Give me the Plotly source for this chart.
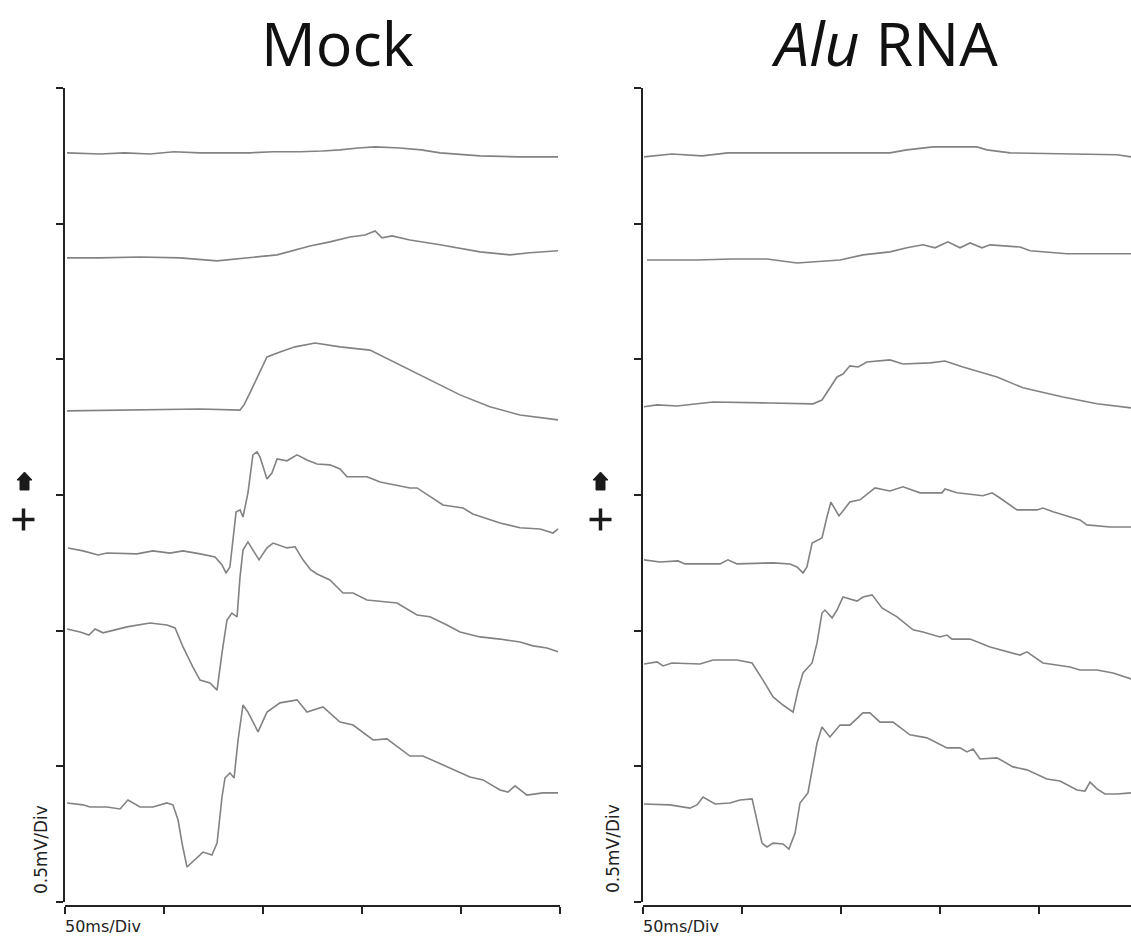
import plotly.graph_objects as go

W, H = 1131, 937

# ---------------- data (time in ms, potential in mV) ----------------
mock_1_t = [1, 17.7, 30, 42.9, 55, 68.2, 80, 93.4, 105, 118.7, 130, 138.9, 148, 156.6, 169.2, 180, 189.4, 200, 209.6, 229.8, 249]
mock_1_v = [2.761, 2.757, 2.761, 2.757, 2.765, 2.761, 2.761, 2.761, 2.765, 2.765, 2.768, 2.772, 2.779, 2.783, 2.779, 2.772, 2.761, 2.754, 2.750, 2.746, 2.746]

mock_2_t = [1, 17.7, 37.9, 58.1, 76.8, 90.9, 107.1, 123.7, 133.8, 143.9, 151.5, 156.6, 160.1, 165.2, 174.2, 189.4, 209.6, 224.7, 234.8, 249]
mock_2_v = [2.374, 2.374, 2.377, 2.374, 2.363, 2.374, 2.385, 2.418, 2.433, 2.451, 2.458, 2.473, 2.448, 2.455, 2.440, 2.422, 2.396, 2.385, 2.393, 2.400]

mock_3_t = [1, 27.8, 53, 68.2, 88.4, 90.4, 93.4, 97.5, 102, 108.6, 116.2, 126.3, 138.9, 154, 169.2, 184.3, 199.5, 214.6, 229.8, 249]
mock_3_v = [1.810, 1.813, 1.817, 1.817, 1.813, 1.832, 1.876, 1.942, 2.009, 2.027, 2.046, 2.060, 2.046, 2.034, 1.979, 1.924, 1.869, 1.825, 1.795, 1.777]

mock_4_t = [1.5, 9.1, 16.7, 21.2, 36.4, 44.4, 53, 59.6, 68.2, 75.8, 79.3, 81.3, 83.3, 84.8, 86.4, 88.4, 89.9, 92.4, 94.9, 97, 98.5, 102, 104.5, 107.1, 112.1, 117.2, 122.2, 127.3, 133.8, 138.9, 142.4, 152.5, 159.1, 174.2, 177.8, 190.9, 201, 206, 219.7, 229.8, 239.9, 246.5, 249]
mock_4_v = [1.305, 1.294, 1.279, 1.286, 1.283, 1.294, 1.286, 1.294, 1.283, 1.272, 1.242, 1.213, 1.235, 1.334, 1.437, 1.445, 1.419, 1.508, 1.648, 1.659, 1.640, 1.559, 1.581, 1.633, 1.626, 1.648, 1.629, 1.614, 1.611, 1.596, 1.567, 1.567, 1.548, 1.526, 1.526, 1.463, 1.452, 1.430, 1.397, 1.379, 1.375, 1.360, 1.375]

mock_5_t = [1, 7.6, 12.1, 15.2, 19.2, 31.3, 42.9, 51.5, 55.6, 59.6, 64.6, 68.2, 73.2, 76.8, 79.3, 81.8, 84.3, 86.9, 88.4, 89.9, 92.4, 94.9, 98, 102, 105.1, 112.1, 116.2, 120.2, 124, 127.3, 133.8, 140.4, 145.5, 152.5, 162.6, 167.7, 177.8, 184.3, 192.9, 199.5, 209.6, 219.7, 229.8, 236.4, 243.4, 249]
mock_5_v = [1.006, 0.995, 0.984, 1.006, 0.992, 1.014, 1.028, 1.021, 1.010, 0.940, 0.866, 0.818, 0.807, 0.781, 0.918, 1.039, 1.065, 1.051, 1.198, 1.297, 1.327, 1.297, 1.261, 1.305, 1.323, 1.305, 1.309, 1.261, 1.225, 1.209, 1.187, 1.139, 1.139, 1.113, 1.106, 1.102, 1.058, 1.051, 1.021, 0.995, 0.977, 0.969, 0.958, 0.944, 0.936, 0.922]

mock_6_t = [1, 9.1, 12.6, 21.2, 27.8, 31.8, 37.9, 44.4, 51.5, 54.5, 57.1, 59.1, 61.6, 66.7, 69.7, 74.2, 76.8, 79.3, 80.8, 83.3, 85.4, 87.4, 89.9, 92.4, 97.5, 102, 108.6, 117.2, 122.2, 130.3, 138.9, 145.5, 155.6, 162.6, 174.2, 180.8, 189.4, 204.5, 211.1, 219.7, 223.7, 227.3, 233.3, 241.4, 249]
mock_6_v = [0.365, 0.358, 0.350, 0.350, 0.343, 0.376, 0.350, 0.350, 0.365, 0.358, 0.302, 0.217, 0.129, 0.166, 0.184, 0.173, 0.217, 0.387, 0.457, 0.476, 0.457, 0.597, 0.726, 0.700, 0.627, 0.700, 0.734, 0.745, 0.700, 0.719, 0.663, 0.652, 0.597, 0.601, 0.538, 0.538, 0.509, 0.461, 0.450, 0.413, 0.405, 0.428, 0.394, 0.402, 0.402]

alu_1_t = [0.5, 14.6, 29.8, 42.9, 49, 90, 124.7, 133.3, 146.5, 168.7, 173.7, 185.4, 212.1, 239.4, 246.5]
alu_1_v = [2.746, 2.757, 2.750, 2.761, 2.761, 2.761, 2.761, 2.772, 2.783, 2.783, 2.772, 2.761, 2.757, 2.754, 2.746]

alu_2_t = [2, 27.3, 45, 62.6, 77.8, 99.5, 111.1, 124.7, 133.3, 141.4, 147.5, 154, 160.1, 165.2, 171.2, 175.3, 190.4, 195.5, 214.1, 246.5]
alu_2_v = [2.366, 2.366, 2.370, 2.370, 2.355, 2.366, 2.385, 2.396, 2.411, 2.422, 2.411, 2.433, 2.411, 2.429, 2.411, 2.422, 2.414, 2.400, 2.389, 2.389]

alu_3_t = [0.5, 7.1, 17.2, 35.4, 64.1, 75.8, 85.9, 90.4, 94.4, 98, 101, 104.5, 108.6, 113.1, 124.7, 131.3, 145, 152.5, 161.6, 178.8, 191.9, 212.1, 229.3, 246.5]
alu_3_v = [1.825, 1.832, 1.828, 1.843, 1.839, 1.836, 1.836, 1.850, 1.895, 1.935, 1.946, 1.976, 1.972, 1.990, 1.998, 1.983, 1.987, 1.994, 1.972, 1.935, 1.895, 1.861, 1.836, 1.821]

alu_4_t = [0.5, 8.6, 17.7, 21.2, 38.9, 42.9, 47.5, 65.7, 74.2, 77.8, 80.8, 82.8, 85.4, 90.4, 92.9, 94.9, 99, 104.5, 109.6, 117.2, 124.7, 131.3, 139.9, 151, 152.5, 158.6, 171.7, 176.3, 180.3, 188.9, 199, 202, 207.1, 220.7, 224.2, 235.9, 246.5]
alu_4_v = [1.261, 1.253, 1.257, 1.246, 1.246, 1.261, 1.246, 1.250, 1.246, 1.235, 1.213, 1.235, 1.323, 1.342, 1.419, 1.474, 1.423, 1.474, 1.482, 1.526, 1.515, 1.530, 1.508, 1.508, 1.522, 1.508, 1.497, 1.508, 1.489, 1.445, 1.445, 1.452, 1.438, 1.408, 1.390, 1.382, 1.382]

alu_5_t = [0.5, 7.1, 10.1, 14.6, 28.8, 35.4, 47.5, 55.1, 60.6, 65.7, 70.7, 75.8, 78.3, 80.8, 85.4, 87.9, 90.4, 91.9, 95.5, 98, 101, 108.1, 111.1, 115.7, 120.7, 128.3, 136.4, 141.4, 150, 153.5, 156.1, 165.2, 175.3, 190.4, 193.9, 202, 215.7, 220.7, 229.3, 237.4, 246.5]
alu_5_v = [0.877, 0.885, 0.870, 0.881, 0.877, 0.892, 0.892, 0.881, 0.818, 0.756, 0.726, 0.700, 0.781, 0.844, 0.881, 0.955, 1.065, 1.076, 1.047, 1.076, 1.124, 1.109, 1.124, 1.132, 1.084, 1.051, 1.003, 0.995, 0.977, 0.984, 0.969, 0.969, 0.940, 0.910, 0.922, 0.881, 0.866, 0.855, 0.855, 0.844, 0.822]

alu_6_t = [0.5, 13.6, 23.7, 27.3, 30.3, 36.4, 43.9, 49, 55.1, 57.6, 60.1, 62.6, 65.7, 70.7, 73.7, 76.8, 79.3, 83.3, 85.4, 87.9, 90.4, 94.4, 99.5, 104.5, 111.1, 114.6, 119.7, 126.3, 134.8, 143.4, 153.5, 160.1, 163.6, 166.7, 170.2, 178.8, 186.9, 193.9, 204, 210.6, 219.2, 223.2, 225.8, 229.3, 233.3, 239.4, 246.5]
alu_6_v = [0.361, 0.358, 0.346, 0.358, 0.387, 0.361, 0.365, 0.376, 0.380, 0.302, 0.217, 0.203, 0.217, 0.214, 0.195, 0.254, 0.365, 0.402, 0.487, 0.586, 0.645, 0.608, 0.652, 0.652, 0.697, 0.697, 0.663, 0.663, 0.616, 0.605, 0.568, 0.568, 0.553, 0.564, 0.527, 0.531, 0.498, 0.487, 0.453, 0.446, 0.413, 0.409, 0.442, 0.417, 0.398, 0.398, 0.402]

time_ticks = [0, 50, 100, 150, 200, 250]
volt_ticks = [0, 0.5, 1.0, 1.5, 2.0, 2.5, 3.0]
panel_titles = ["Mock", "<i>Alu</i> RNA"]
x_label = "50ms/Div"
y_label = "0.5mV/Div"

mock_traces = [(mock_1_t, mock_1_v), (mock_2_t, mock_2_v), (mock_3_t, mock_3_v),
               (mock_4_t, mock_4_v), (mock_5_t, mock_5_v), (mock_6_t, mock_6_v)]
alu_traces = [(alu_1_t, alu_1_v), (alu_2_t, alu_2_v), (alu_3_t, alu_3_v),
              (alu_4_t, alu_4_v), (alu_5_t, alu_5_v), (alu_6_t, alu_6_v)]

# ---------------- figure ----------------
def px(xp):
    return xp / W

def py(yp):
    return 1 - yp / H

LINE = "#828282"
AX = "#222222"

fig = go.Figure()
for t, v in mock_traces:
    fig.add_trace(go.Scatter(x=t, y=v, mode="lines", line=dict(color=LINE, width=1.6),
                             xaxis="x", yaxis="y", showlegend=False, hoverinfo="skip"))
for t, v in alu_traces:
    fig.add_trace(go.Scatter(x=t, y=v, mode="lines", line=dict(color=LINE, width=1.6),
                             xaxis="x2", yaxis="y2", showlegend=False, hoverinfo="skip"))

ms_per_px = 250 / 495.0
common_x = dict(tickmode="array", tickvals=time_ticks, ticks="outside", ticklen=7, tickwidth=2,
                tickcolor=AX, showticklabels=False, showline=True, linecolor=AX, linewidth=2,
                showgrid=False, zeroline=False, anchor="free", position=py(906))
common_y = dict(range=[0, 3.0], tickmode="array", tickvals=volt_ticks, ticks="outside", ticklen=7,
                tickwidth=2, tickcolor=AX, showticklabels=False, showline=True, linecolor=AX,
                linewidth=2, showgrid=False, zeroline=False, domain=[py(902), py(88)])

fig.update_layout(
    width=W, height=H, margin=dict(l=0, r=0, t=0, b=0),
    paper_bgcolor="white", plot_bgcolor="rgba(0,0,0,0)",
    xaxis=dict(domain=[px(65), px(560)], range=[0, 250], **common_x),
    yaxis=dict(anchor="x", **common_y),
    xaxis2=dict(domain=[px(643), 1.0], range=[0, (W - 643) * ms_per_px], **common_x),
    yaxis2=dict(anchor="x2", **common_y),
)

title_font = dict(family="Open Sans, Noto Sans, sans-serif", size=61, color="#111111")
for tx, txt in [(337, panel_titles[0]), (884, panel_titles[1])]:
    fig.add_annotation(x=px(tx), y=1.0, xref="paper", yref="paper", text=txt,
                       showarrow=False, font=title_font, xanchor="center", yanchor="top",
                       borderpad=0)

small_font = dict(family="DejaVu Sans, sans-serif", size=16, color=AX)
y_font = dict(family="DejaVu Sans, sans-serif", size=17, color=AX)
for x0, xl in [(65, 41), (643, 613)]:
    fig.add_annotation(x=px(x0 - 1), y=0.0, xref="paper", yref="paper", text=x_label,
                       showarrow=False, font=small_font, xanchor="left", yanchor="bottom",
                       borderpad=0)
    fig.add_annotation(x=px(xl), y=py(849), xref="paper", yref="paper", text=y_label,
                       textangle=-90, showarrow=False, font=y_font,
                       xanchor="center", yanchor="middle")

# up-arrow and plus markers beside each y axis
for cx in [24.5, 600.5]:
    path = ("M {a},{b} L {c},{d} L {e},{d} L {e},{f} L {g},{f} L {g},{d} L {h},{d} Z").format(
        a=px(cx), b=py(472), c=px(cx + 7.5), d=py(480), e=px(cx + 4.5), f=py(490),
        g=px(cx - 4.5), h=px(cx - 7.5))
    fig.add_shape(type="path", path=path, xref="paper", yref="paper",
                  fillcolor="#1a1a1a", line=dict(color="#1a1a1a", width=1))
for cx in [23.5, 600.5]:
    fig.add_shape(type="line", xref="paper", yref="paper", x0=px(cx - 11), x1=px(cx + 11),
                  y0=py(519.5), y1=py(519.5), line=dict(color="#1a1a1a", width=3.5))
    fig.add_shape(type="line", xref="paper", yref="paper", x0=px(cx), x1=px(cx),
                  y0=py(508.5), y1=py(530.5), line=dict(color="#1a1a1a", width=3.5))

fig.write_html("out.html", config={"displayModeBar": False},
               post_script="document.body.style.margin='0';document.body.style.overflow='hidden';")
